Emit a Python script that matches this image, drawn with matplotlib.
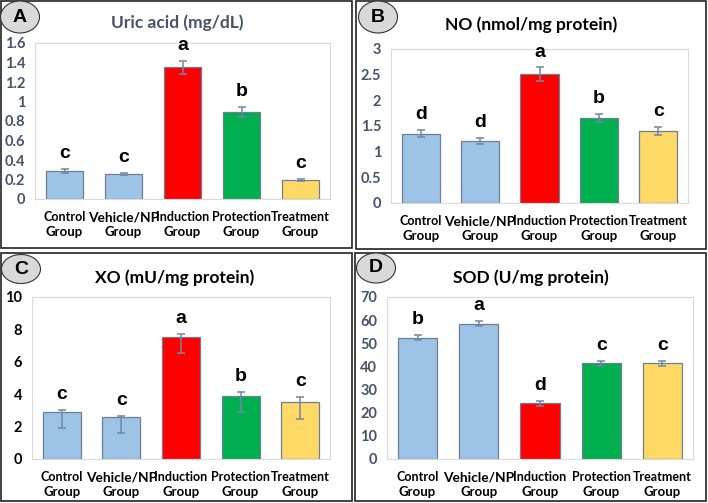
import matplotlib
matplotlib.use('Agg')
import matplotlib.pyplot as plt
import matplotlib.patches as patches

W, H = 708, 503

group_top = ['Control', 'Vehicle/NP', 'Induction', 'Protection', 'Treatment']
group_bottom = ['Group', 'Group', 'Group', 'Group', 'Group']
bar_colors = ['#9DC3E6', '#9DC3E6', '#FF0000', '#00B050', '#FFD966']

uric_vals = [0.29, 0.26, 1.35, 0.895, 0.195]
uric_lo = [0.02, 0.01, 0.07, 0.05, 0.008]
uric_hi = [0.02, 0.01, 0.07, 0.05, 0.008]
uric_letters = ['c', 'c', 'a', 'b', 'c']

no_vals = [1.35, 1.2, 2.51, 1.66, 1.40]
no_lo = [0.065, 0.06, 0.13, 0.08, 0.08]
no_hi = [0.065, 0.06, 0.13, 0.08, 0.08]
no_letters = ['d', 'd', 'a', 'b', 'c']

xo_vals = [2.89, 2.58, 7.52, 3.91, 3.50]
xo_lo = [1.0, 0.96, 1.0, 1.02, 1.0]
xo_hi = [0.16, 0.06, 0.21, 0.21, 0.33]
xo_letters = ['c', 'c', 'a', 'b', 'c']

sod_vals = [52.5, 58.5, 24.1, 41.3, 41.3]
sod_lo = [1.0, 1.0, 1.0, 1.0, 1.0]
sod_hi = [1.0, 1.0, 1.0, 1.0, 1.0]
sod_letters = ['b', 'a', 'd', 'c', 'c']

SLATE = '#44546A'
LABEL_FONT = ['Lato', 'DejaVu Sans']
LETTER_FONT = ['Liberation Sans', 'DejaVu Sans']


def px_box(l, t, r, b):
    return [l / W, 1 - b / H, (r - l) / W, (b - t) / H]


def draw_panel(fig, plot_px, frame_px, ell_px, tag, title, title_px, title_color,
               vals, lo, hi, letters, ymax, ystep, tick_color, tick_fmt):
    # outer frame
    l, t, r, b = frame_px
    fig.patches.append(patches.Rectangle((l / W, 1 - b / H), (r - l) / W, (b - t) / H,
                                         transform=fig.transFigure, fill=False,
                                         edgecolor='#222222', linewidth=1.2))
    # panel tag ellipse
    cx, cy, ew, eh = ell_px
    fig.patches.append(patches.Ellipse((cx / W, 1 - cy / H), ew / W, eh / H,
                                       transform=fig.transFigure, facecolor='#D9D9D9',
                                       edgecolor='#333333', linewidth=0.8))
    fig.text(cx / W, 1 - cy / H, tag, ha='center', va='center', fontsize=14,
             fontweight='bold', family=LETTER_FONT)
    fig.text(title_px[0] / W, 1 - title_px[1] / H, title, ha='center', va='center',
             fontsize=12.5, fontweight='bold', color=title_color, family=LABEL_FONT)

    ax = fig.add_axes(px_box(*plot_px))
    x = list(range(len(vals)))
    ax.bar(x, vals, width=0.64, color=bar_colors, edgecolor='#6F7F92', linewidth=0.9, zorder=2)
    ax.errorbar(x, vals, yerr=[lo, hi], fmt='none', ecolor='#7088A8', elinewidth=1.1,
                capsize=3, capthick=1.1, zorder=3)
    for xi, v, h, s in zip(x, vals, hi, letters):
        ax.annotate(s, (xi, v + h), xytext=(0, 5), textcoords='offset points',
                    ha='center', va='bottom', fontsize=14, fontweight='bold',
                    family=LETTER_FONT)
    ax.set_xlim(-0.5, 4.5)
    ax.set_ylim(0, ymax)
    ticks = [i * ystep for i in range(int(round(ymax / ystep)) + 1)]
    ax.set_yticks(ticks)
    ax.set_yticklabels([tick_fmt(v) for v in ticks], fontsize=10.5, fontweight='bold',
                       color=tick_color, family=LABEL_FONT)
    ax.set_xticks(x)
    ax.set_xticklabels([])
    # two-line group labels, first line of Vehicle/NP a bit larger as in the original
    xt = ax.get_xaxis_transform()
    for xi, top, bot in zip(x, group_top, group_bottom):
        ax.annotate(top, (xi, 0), xycoords=xt, xytext=(0, -13), textcoords='offset points',
                    ha='center', va='center', fontsize=9.9 if '/' in top else 9.0,
                    fontweight='bold', family=LABEL_FONT, annotation_clip=False)
        ax.annotate(bot, (xi, 0), xycoords=xt, xytext=(0, -24), textcoords='offset points',
                    ha='center', va='center', fontsize=9.5,
                    fontweight='bold', family=LABEL_FONT, annotation_clip=False)
    ax.tick_params(axis='both', length=0)
    ax.tick_params(axis='y', pad=7)
    for sp in ax.spines.values():
        sp.set_color('#D9D9D9')
        sp.set_linewidth(0.8)
    return ax


def fmt_num(v):
    s = f'{v:.1f}'
    return s[:-2] if s.endswith('.0') else s


fig = plt.figure(figsize=(W / 100, H / 100), dpi=100)
fig.patch.set_facecolor('white')

draw_panel(fig, (35, 43, 330, 199), (1, 1, 352, 248), (20, 17, 39, 32), 'A',
           'Uric acid (mg/dL)', (177, 23), SLATE,
           uric_vals, uric_lo, uric_hi, uric_letters, 1.6, 0.2, SLATE, fmt_num)
draw_panel(fig, (391, 49, 688, 203), (356, 1, 706, 249), (378, 17, 39, 32), 'B',
           'NO (nmol/mg protein)', (531, 25), 'black',
           no_vals, no_lo, no_hi, no_letters, 3, 0.5, SLATE, fmt_num)
draw_panel(fig, (32, 297, 330, 459), (1, 253, 352, 501), (21, 269, 39, 29), 'C',
           'XO (mU/mg protein)', (175, 278), 'black',
           xo_vals, xo_lo, xo_hi, xo_letters, 10, 2, 'black', fmt_num)
draw_panel(fig, (387, 297, 693, 459), (355, 253, 706, 501), (376, 268, 39, 30), 'D',
           'SOD (U/mg protein)', (531, 278), 'black',
           sod_vals, sod_lo, sod_hi, sod_letters, 70, 10, SLATE, fmt_num)

fig.savefig('out.png', dpi=100)
